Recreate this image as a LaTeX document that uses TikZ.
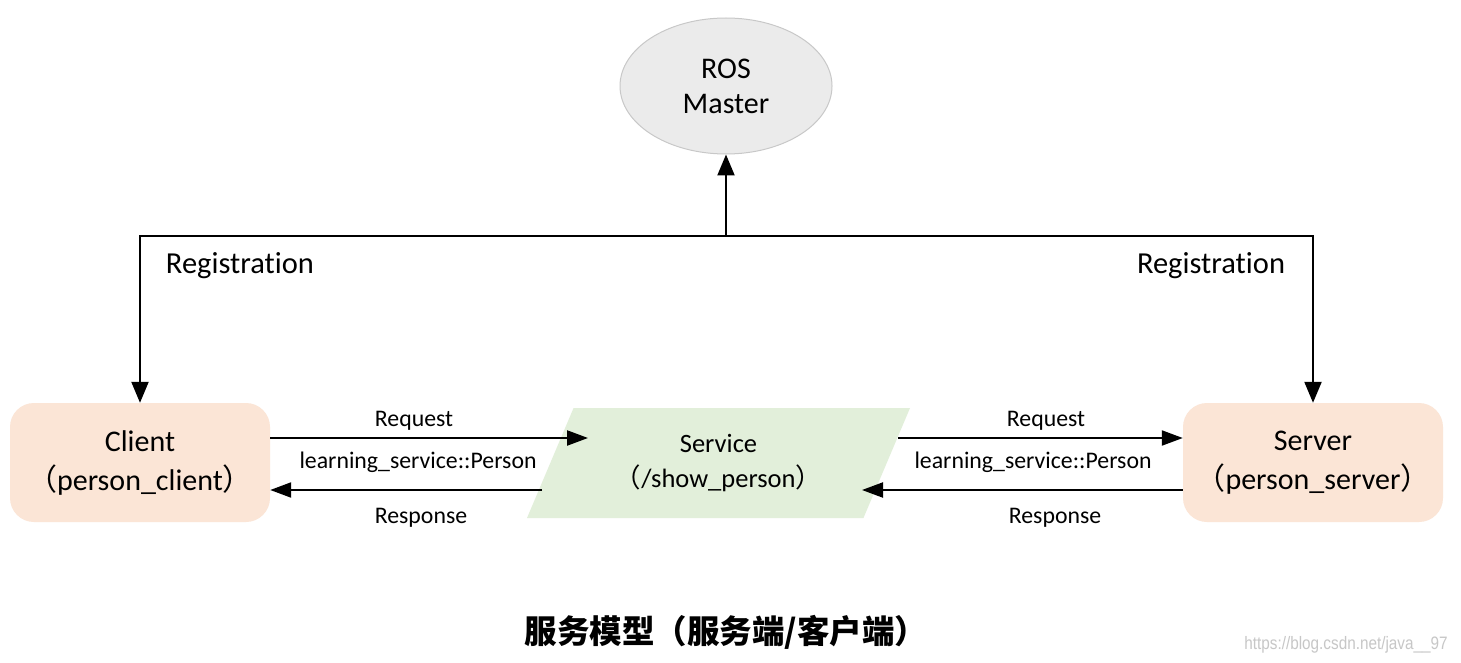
\documentclass[tikz,border=0pt]{standalone}
\usepackage{fontspec}
\setmainfont{Carlito}[Ligatures=NoCommon]
\newfontfamily\cjk{Noto Sans CJK SC}
\newfontfamily\wmfont{Liberation Sans}
\usepackage{tikz}
\usetikzlibrary{arrows.meta}
\usetikzlibrary{shapes.geometric}
\usetikzlibrary{positioning}
\definecolor{NodePeach}{HTML}{FBE5D6}
\definecolor{NodeGreen}{HTML}{E2EFDA}
\definecolor{NodeGray}{HTML}{EBEBEB}
\definecolor{LineGray}{HTML}{C8C8C8}
\tikzset{
  MyBox/.style={
    rectangle, rounded corners=24pt,
    minimum width=260pt, minimum height=119pt,
    fill=NodePeach, align=center,
    font=\fontsize{30}{39}\selectfont,
  },
  MyMaster/.style={
    ellipse, minimum width=212pt, minimum height=136pt,
    fill=NodeGray, draw=LineGray, line width=1pt, align=center,
    font=\fontsize{30}{35}\selectfont,
  },
  MyService/.style={
    trapezium, trapezium left angle=51, trapezium right angle=129,
    trapezium stretches body=true,
    minimum width=383pt, minimum height=110pt, inner sep=0pt,
    fill=NodeGreen, align=center,
    font=\fontsize{26.5}{35}\selectfont,
  },
  MyReg/.style={line width=2.2pt, -{Triangle[width=17pt,length=21pt]}},
  MyMsg/.style={line width=2.2pt, -{Triangle[width=15pt,length=21pt]}},
  MyLabel/.style={font=\fontsize{30.5}{34}\selectfont},
  MySmall/.style={font=\fontsize{23.8}{27}\selectfont},
}

\begin{document}
\begin{tikzpicture}[x=1pt, y=-1pt]
\useasboundingbox[fill=white] (0,0) rectangle (1461,663);
\node[MyMaster] (ROS) at (726,86) {ROS\\Master};
\node[MyBox] (CLI) at (140,462.5) {Client\\{\cjk （}person\_client{\cjk ）}};
\node[MyBox] (SVR) at (1313,462.5) {Server\\{\cjk （}person\_server{\cjk ）}};
\node[MyService] (SRV) at (718.5,463) {Service\\{\cjk （}/show\_person{\cjk ）}};
\coordinate (Hub) at (726,236);
\draw[MyReg] (Hub) -- (ROS.south);
\draw[MyReg] (Hub) -| (CLI.north);
\draw[MyReg] (Hub) -| (SVR.north);
\node[MyLabel] (RegL) at (240,266) {Registration};
\node[MyLabel] (RegR) at (1211,266) {Registration};
% request / response
\coordinate (ReqIn) at (588,438);
\coordinate (RspOut) at (542,490);
\coordinate (ReqOut) at (898,438);
\coordinate (RspIn) at (862,490);
\draw[MyMsg] (CLI.east |- ReqIn) -- (ReqIn);
\draw[MyMsg] (RspOut) -- (CLI.east |- RspOut);
\draw[MyMsg] (ReqOut) -- (SVR.west |- ReqOut);
\draw[MyMsg] (SVR.west |- RspIn) -- (RspIn);
\node[MySmall] (ReqL) at (414,421) {Request};
\node[MySmall] (TypL) at (418,462) {learning\_service::Person};
\node[MySmall] (RspL) at (421,518) {Response};
\node[MySmall] (ReqR) at (1046,421) {Request};
\node[MySmall] (TypR) at (1033,462) {learning\_service::Person};
\node[MySmall] (RspR) at (1055,518) {Response};
\node[font=\cjk\bfseries\fontsize{32.5}{38}\selectfont] (Title) at (726,632) {服务模型（服务端/客户端）};
\node[font=\wmfont\fontsize{18}{20}\selectfont, text=black!22, xscale=0.85] (Mark) at (1346,645) {https://blog.csdn.net/java\_\_97};
\end{tikzpicture}
\end{document}
